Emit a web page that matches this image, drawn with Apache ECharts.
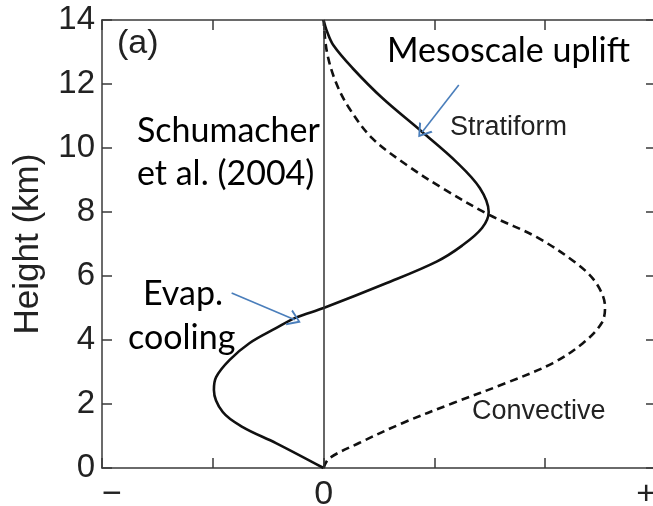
<!DOCTYPE html>
<html>
<head>
<meta charset="utf-8">
<script src="https://cdn.jsdelivr.net/npm/echarts@6/dist/echarts.min.js"></script>
<style>html,body{margin:0;padding:0;background:#fff}#c{width:653px;height:506px}</style>
</head>
<body>
<div id="c"></div>
<script>
// Height (km) and heating values for each profile
var stratHeight = [0, 0.78, 1.28, 1.75, 2.44, 2.84, 3.37, 3.9, 4.37, 4.7, 5.0, 5.78, 6.45, 6.95, 7.5, 8.0, 8.75, 9.56, 10.5, 11.56, 12.5, 13.2, 13.65, 14];
var stratValue  = [0, -0.43, -0.73, -0.91, -0.99, -0.97, -0.85, -0.67, -0.43, -0.25, 0, 0.57, 1.02, 1.25, 1.43, 1.49, 1.41, 1.2, 0.89, 0.53, 0.26, 0.09, 0.03, 0];
var convHeight  = [0, 0.3, 0.78, 1.4, 2.03, 2.66, 3.28, 3.9, 4.53, 5.03, 5.78, 6.4, 7.22, 7.9, 8.75, 9.47, 10.3, 11.25, 12.06, 13.0, 14];
var convValue   = [0, 0.05, 0.32, 0.71, 1.17, 1.65, 2.07, 2.34, 2.51, 2.54, 2.46, 2.28, 1.92, 1.5, 1.07, 0.75, 0.44, 0.23, 0.11, 0.03, 0];
var yTicks = [0, 2, 4, 6, 8, 10, 12, 14];
var xTickLabels = {'-2': '\u2212', '0': '0', '3': '+'};
// annotation arrows: [from, to] in data coords
var mesoArrow = [[1.22, 11.97], [0.89, 10.5]];
var evapArrow = [[-0.83, 5.47], [-0.26, 4.63]];

function pairs(xs, ys) { return xs.map(function (x, i) { return [x, ys[i]]; }); }

var chart = echarts.init(document.getElementById('c'), null, {renderer: 'canvas'});
var axisCol = '#3a3a3a';
var chevron = 'path://M0,10 L5,0 L10,10 L8.8,10.5 L5,2.6 L1.2,10.5 Z';
var opt = {
  backgroundColor: '#fff',
  animation: false,
  grid: {left: 102, top: 20, right: -3, bottom: 38, containLabel: false, outerBoundsMode: 'none'},
  xAxis: [{
    type: 'value', min: -2, max: 3, interval: 1, position: 'bottom',
    axisLine: {show: true, onZero: false, lineStyle: {color: axisCol, width: 1.5}},
    axisTick: {show: true, inside: true, length: 10, lineStyle: {color: axisCol, width: 1.5}},
    splitLine: {show: false},
    axisLabel: {
      show: true, margin: 10, fontFamily: 'Liberation Sans', fontSize: 34, color: '#222',
      alignMinLabel: 'left', alignMaxLabel: 'right',
      formatter: function (v) { return xTickLabels[String(v)] || ''; }
    }
  }, {
    type: 'value', min: -2, max: 3, interval: 1, position: 'top',
    axisLine: {show: true, onZero: false, lineStyle: {color: axisCol, width: 1.5}},
    axisTick: {show: true, inside: true, length: 10, lineStyle: {color: axisCol, width: 1.5}},
    splitLine: {show: false}, axisLabel: {show: false}
  }],
  yAxis: [{
    type: 'value', min: 0, max: 14, interval: 2, position: 'left',
    name: 'Height (km)', nameLocation: 'middle', nameGap: 56, nameRotate: 90,
    nameTextStyle: {fontFamily: 'Liberation Sans', fontSize: 35, color: '#222'},
    axisLine: {show: true, onZero: false, lineStyle: {color: axisCol, width: 1.5}},
    axisTick: {show: true, inside: true, length: 10, lineStyle: {color: axisCol, width: 1.5}},
    splitLine: {show: false},
    axisLabel: {margin: 7, fontFamily: 'Liberation Sans', fontSize: 33, color: '#222',
      formatter: function (v) { return yTicks.indexOf(v) >= 0 ? String(v) : ''; }}
  }, {
    type: 'value', min: 0, max: 14, interval: 2, position: 'right',
    axisLine: {show: true, onZero: false, lineStyle: {color: axisCol, width: 1.5}},
    axisTick: {show: true, inside: true, length: 10, lineStyle: {color: axisCol, width: 1.5}},
    splitLine: {show: false}, axisLabel: {show: false}
  }],
  series: [{
    name: 'Stratiform', type: 'line', smooth: 0.35, showSymbol: false,
    data: pairs(stratValue, stratHeight),
    lineStyle: {color: '#111', width: 2.6},
    markLine: {
      silent: true, symbol: ['none', 'none'], label: {show: false},
      lineStyle: {color: '#333', width: 1.5, type: 'solid'},
      data: [{xAxis: 0}]
    }
  }, {
    name: 'Convective', type: 'line', smooth: 0.35, showSymbol: false,
    data: pairs(convValue, convHeight),
    lineStyle: {color: '#111', width: 2.6, type: [8, 5]}
  }, {
    name: 'arrows', type: 'line', data: [], showSymbol: false,
    markLine: {
      silent: true, symbol: ['none', chevron], symbolSize: [17, 13], label: {show: false},
      lineStyle: {color: '#4a7ebb', width: 1.6, type: 'solid'},
      data: [
        [{coord: mesoArrow[0]}, {coord: mesoArrow[1]}],
        [{coord: evapArrow[0]}, {coord: evapArrow[1]}]
      ]
    }
  }],
  graphic: [
    {type: 'text', left: 117, top: 27, style: {text: '(a)', font: '34px "Liberation Sans"', fill: '#222'}},
    {type: 'text', left: 387, top: 34, style: {text: 'Mesoscale uplift', font: '34px Lato', fill: '#000'}},
    {type: 'text', left: 137, top: 114, style: {text: 'Schumacher', font: '34px Lato', fill: '#000'}},
    {type: 'text', left: 137, top: 157, style: {text: 'et al. (2004)', font: '34px Lato', fill: '#000'}},
    {type: 'text', left: 143, top: 277, style: {text: 'Evap.', font: '34px Lato', fill: '#000'}},
    {type: 'text', left: 128, top: 321, style: {text: 'cooling', font: '34px Lato', fill: '#000'}},
    {type: 'text', left: 450, top: 114, style: {text: 'Stratiform', font: '27px "Liberation Sans"', fill: '#222'}},
    {type: 'text', left: 472, top: 398, style: {text: 'Convective', font: '27px "Liberation Sans"', fill: '#222'}}
  ]
};
chart.setOption(opt);
</script>
</body>
</html>
